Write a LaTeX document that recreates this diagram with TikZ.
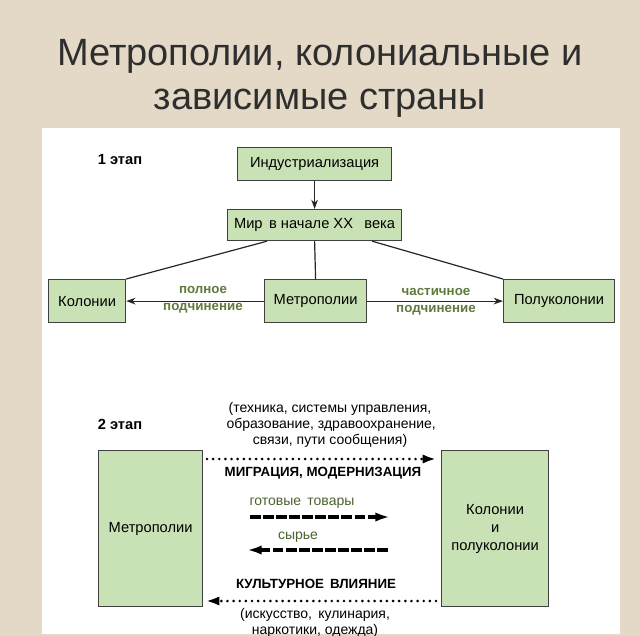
\documentclass[tikz,border=0pt]{standalone}
\usepackage{fontspec}
\setmainfont{Liberation Sans}
\usetikzlibrary{arrows.meta}
\definecolor{bg}{HTML}{E3D9C6}
\definecolor{boxg}{HTML}{C9E2B5}
\definecolor{lab}{HTML}{5E7A3C}
\definecolor{ttl}{HTML}{2E2E2E}
\begin{document}
\begin{tikzpicture}[x=0.75pt,y=-0.75pt,
  box/.style={draw=black!75,line width=0.9pt,fill=boxg,inner sep=0pt,anchor=north west},
  bt/.style={font=\fontsize{11}{13.5}\selectfont,align=center},
  lab/.style={text=lab,font=\fontsize{10}{12}\selectfont\bfseries},
  txt/.style={font=\fontsize{10.5}{12}\selectfont,align=center},
  ln/.style={line width=0.9pt,black!85},
  dotarr/.style={line width=2.2pt,dash pattern=on 0pt off 4.6pt,line cap=round,-{Latex[length=10pt,width=7pt]}},
  dasharr/.style={line width=2.8pt,dash pattern=on 8pt off 1.8pt,-{Latex[length=11pt,width=7pt]}}]
\useasboundingbox (0,0) rectangle (640,636);
\fill[bg] (0,0) rectangle (640,636);
\fill[white] (42,128) rectangle (620,634);
\node[text=ttl,font=\fontsize{28.5}{33}\selectfont,align=center] (title) at (320,78) {Метрополии, колониальные и\\зависимые страны};
% stage 1
\node[font=\fontsize{11}{13}\selectfont\bfseries] (s1) at (120,160) {1 этап};
\node[box,minimum width=154*0.75pt,minimum height=33*0.75pt] (ind) at (237,147) {};
\node[bt] at (ind.center) {Индустриализация};
\node[box,minimum width=174*0.75pt,minimum height=31*0.75pt] (mir) at (227,209) {};
\node[bt] at (mir.center) {Мир\, в начале XX\,\,\, века};
\node[box,minimum width=77*0.75pt,minimum height=43*0.75pt] (kol) at (48,279) {};
\node[bt] at (kol.center) {Колонии};
\node[box,minimum width=102*0.75pt,minimum height=43*0.75pt] (met) at (264,279) {};
\node[bt] at (met.center) {Метрополии};
\node[box,minimum width=111*0.75pt,minimum height=43*0.75pt] (pol) at (503,279) {};
\node[bt] at (pol.center) {Полуколонии};
\draw[ln,-{Stealth[length=7pt,width=5pt]}] (ind) -- (mir);
\draw[ln] (mir.south west)++(40,0) coordinate (m1) -- (kol.north east);
\draw[ln] (mir.south) -- (met.north);
\draw[ln] (mir.south east)++(-30,0) coordinate (m2) -- (pol.north west);
\draw[ln,-{Stealth[length=7pt,width=5pt]}] (met) -- (kol);
\draw[ln,-{Stealth[length=7pt,width=5pt]}] (met) -- (pol);
\node[lab] (l1) at (203,290) {полное};
\node[lab] (l2) at (203,308) {подчинение};
\node[lab] (l3) at (436,292) {частичное};
\node[lab] (l4) at (436,310) {подчинение};
% stage 2
\node[font=\fontsize{11}{13}\selectfont\bfseries] (s2) at (120,424) {2 этап};
\node[box,minimum width=104*0.75pt,minimum height=156*0.75pt] (met2) at (98,450) {};
\node[bt] at (met2.center) {Метрополии};
\node[box,minimum width=107*0.75pt,minimum height=156*0.75pt] (kol2) at (441,450) {};
\node[bt] at (kol2.center) {Колонии\\и\\полуколонии};
\node[txt] (t1) at (330,425) {(техника, системы управления,\\\,образование, здравоохранение,\\связи, пути сообщения)};
\coordinate (a1) at (207,459); \coordinate (a2) at (436,459);
\draw[dotarr] (a1) -- (a2);
\node[font=\fontsize{10}{12}\selectfont\bfseries] (mig) at (323,473) {МИГРАЦИЯ, МОДЕРНИЗАЦИЯ};
\node[txt,text=lab!80!black] (gt) at (302,503) {готовые\, товары};
\coordinate (b1) at (250,517); \coordinate (b2) at (390,517);
\draw[dasharr] (b1) -- (b2);
\node[txt,text=lab!80!black] (sy) at (298,537) {сырье};
\coordinate (c1) at (388,550); \coordinate (c2) at (247,550);
\draw[dasharr] (c1) -- (c2);
\node[font=\fontsize{10}{12}\selectfont\bfseries] (kul) at (316,584) {КУЛЬТУРНОЕ\, ВЛИЯНИЕ};
\coordinate (d1) at (436,601); \coordinate (d2) at (206,601);
\draw[dotarr] (d1) -- (d2);
\node[txt] (t2) at (315,623) {(искусство,\, кулинария,\\наркотики, одежда)};
\end{tikzpicture}
\end{document}
